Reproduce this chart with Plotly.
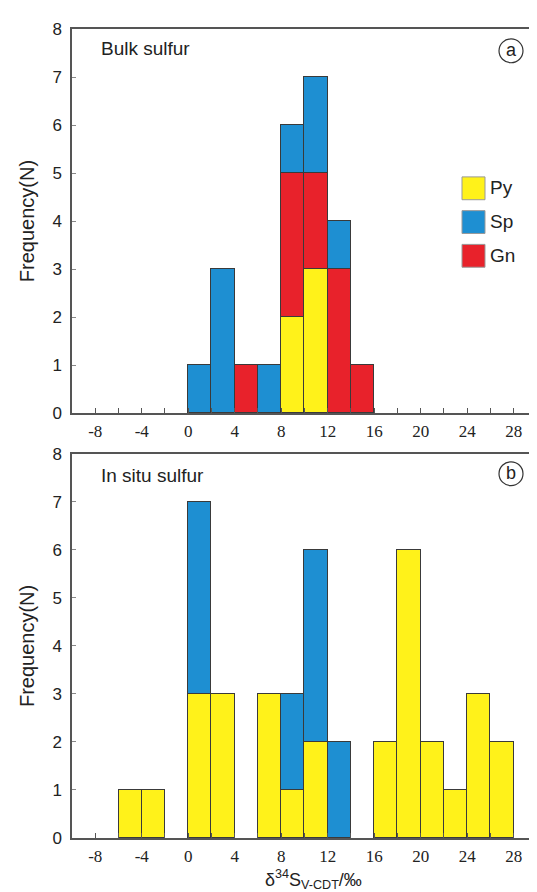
import plotly.graph_objects as go

# ---------------- data ----------------
# Panel (a) Bulk sulfur  (bin centers of 2-unit bins, counts)
a_py_x = [9, 11]
a_py_y = [2, 3]
a_gn_x = [5, 9, 11, 13, 15]
a_gn_y = [1, 3, 2, 3, 1]
a_sp_x = [1, 3, 7, 9, 11, 13]
a_sp_y = [1, 3, 1, 1, 2, 1]
# Panel (b) In situ sulfur
b_py_x = [-5, -3, 1, 3, 7, 9, 11, 17, 19, 21, 23, 25, 27]
b_py_y = [1, 1, 3, 3, 3, 1, 2, 2, 6, 2, 1, 3, 2]
b_sp_x = [1, 9, 11, 13]
b_sp_y = [4, 2, 4, 2]

x_tick_vals = [-8, -4, 0, 4, 8, 12, 16, 20, 24, 28]
x_tick_text = ["-8", "-4", "0", "4", "8", "12", "16", "20", "24", "28"]
y_tick_vals = [0, 1, 2, 3, 4, 5, 6, 7, 8]
legend_names = ["Py", "Sp", "Gn"]

YELLOW = "#FFF21A"
BLUE = "#1E8FD2"
RED = "#E8222B"
EDGE = "#3a3a3a"

W, H = 537, 892
L, R, T, B = 64, 15, 15, 62
PW, PH = W - L - R, H - T - B


def px(x):
    return (x - L) / PW


def py(y):
    return 1 - (y - T) / PH


fig = go.Figure()


def add_bar(x, y, color, name, xa, ya):
    fig.add_trace(go.Bar(x=x, y=y, width=2, name=name, marker=dict(color=color, line=dict(color=EDGE, width=1)),
                         xaxis=xa, yaxis=ya, showlegend=False))


add_bar(a_py_x, a_py_y, YELLOW, "Py", "x", "y")
add_bar(a_gn_x, a_gn_y, RED, "Gn", "x", "y")
add_bar(a_sp_x, a_sp_y, BLUE, "Sp", "x", "y")
add_bar(b_py_x, b_py_y, YELLOW, "Py", "x2", "y2")
add_bar(b_sp_x, b_sp_y, BLUE, "Sp", "x2", "y2")

top_dom = [py(402), 1]
bot_dom = [0, py(443)]

xcommon = dict(range=[-10, 29.4], tickvals=x_tick_vals, ticktext=x_tick_text, ticks="inside", ticklen=5,
               tickcolor="#555", showline=True, linecolor="#555", linewidth=1.5, mirror=True, showgrid=False,
               zeroline=False, ticklabelstandoff=2,
               tickfont=dict(family="Liberation Serif", size=17, color="#222"),
               minor=dict(dtick=2, tick0=0, ticks="inside", ticklen=5, tickcolor="#555"))
ycommon = dict(range=[0, 8], tickvals=y_tick_vals, ticks="inside", ticklen=4, tickcolor="#888",
               showline=True, linecolor="#555", linewidth=1.5, mirror=True, showgrid=False, zeroline=False,
               ticklabelstandoff=5,
               tickfont=dict(family="Liberation Sans", size=17, color="#222"),
               title=dict(text="Frequency(N)", font=dict(family="Liberation Sans", size=20, color="#222"), standoff=12))

fig.update_layout(
    width=W, height=H, margin=dict(l=L, r=R, t=T, b=B),
    paper_bgcolor="white", plot_bgcolor="white", barmode="stack", bargap=0,
    xaxis=dict(domain=[0, 1], anchor="y", **xcommon),
    yaxis=dict(domain=top_dom, anchor="x", **ycommon),
    xaxis2=dict(domain=[0, 1], anchor="y2", **xcommon),
    yaxis2=dict(domain=bot_dom, anchor="x2", **ycommon),
)

ann_font = dict(family="Liberation Sans", size=19, color="#222")
annotations = [
    dict(text="Bulk sulfur", x=px(91), y=py(35), xanchor="left", yanchor="middle", font=ann_font),
    dict(text="In situ sulfur", x=px(91), y=py(465), xanchor="left", yanchor="middle", font=ann_font),
    dict(text="a", x=px(503), y=py(36), xanchor="center", yanchor="middle", font=dict(family="Liberation Sans", size=18, color="#222")),
    dict(text="b", x=px(503), y=py(462), xanchor="center", yanchor="middle", font=dict(family="Liberation Sans", size=18, color="#222")),
    dict(text="δ<sup style='font-size:11px'>34</sup>S<sub style='font-size:11px'>V-CDT</sub>/‰", x=px(305), y=py(872),
         xanchor="center", yanchor="middle", font=dict(family="Liberation Sans", size=18, color="#222")),
]
shapes = []
for cx, cy in [(503, 37), (503, 463)]:
    shapes.append(dict(type="circle", xref="paper", yref="paper", x0=px(cx - 12), x1=px(cx + 12),
                       y0=py(cy + 12), y1=py(cy - 12), line=dict(color="#333", width=1.2)))

leg_colors = [YELLOW, BLUE, RED]
leg_y = [164, 198, 232]
for name, col, yy in zip(legend_names, leg_colors, leg_y):
    shapes.append(dict(type="rect", xref="paper", yref="paper", x0=px(454), x1=px(477), y0=py(yy + 23), y1=py(yy),
                       fillcolor=col, line=dict(color="#999", width=1)))
    annotations.append(dict(text=name, x=px(480), y=py(yy + 11), xanchor="left", yanchor="middle",
                            font=dict(family="Liberation Sans", size=19, color="#222")))

for a in annotations:
    a.update(xref="paper", yref="paper", showarrow=False)
fig.update_layout(annotations=annotations, shapes=shapes)

fig.write_html("out.html")
